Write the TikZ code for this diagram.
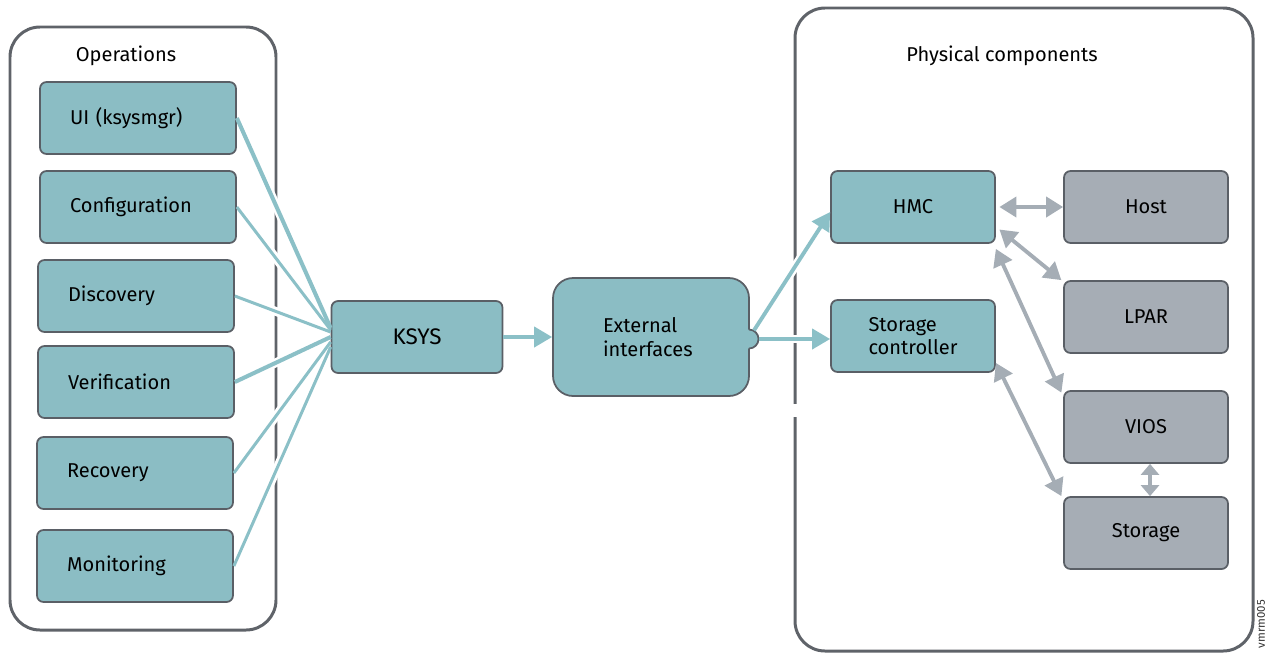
\documentclass[tikz,border=0pt]{standalone}
\usepackage{fontspec}
\setmainfont{Fira Sans}
\usetikzlibrary{arrows.meta, positioning, calc}

\definecolor{tealbox}{RGB}{139,189,196}
\definecolor{greybox}{RGB}{166,173,181}
\definecolor{boxline}{RGB}{90,95,102}
\definecolor{frameline}{RGB}{95,99,105}
\definecolor{tealline}{RGB}{139,192,199}
\definecolor{greyline}{RGB}{165,173,181}

\begin{document}
\begin{tikzpicture}[x=0.02cm, y=-0.02cm,
		frame/.style={draw=frameline, line width=1.7pt, rounded corners=0.6cm},
		base/.style={draw=boxline, line width=1pt, rounded corners=0.13cm, minimum height=1.44cm, font=\fontsize{11.4}{13.5}\selectfont},
		opbox/.style={base, fill=tealbox, text width=2.72cm, inner xsep=0.6cm, align=left},
		tealnode/.style={base, fill=tealbox, minimum width=3.28cm, align=left},
		greynode/.style={base, fill=greybox, minimum width=3.28cm},
		opline/.style={draw=tealline, line width=1.7pt},
		halo/.style={draw=white, line width=5pt, shorten <=0.3cm, shorten >=0.3cm},
		tealarrow/.style={draw=tealline, line width=2.2pt, -{Triangle[length=0.36cm, width=0.4cm]}},
		greyarrow/.style={draw=greyline, line width=2.2pt, {Triangle[length=0.34cm, width=0.4cm]}-{Triangle[length=0.34cm, width=0.4cm]}}]
		\useasboundingbox (0,0) rectangle (1266,653);
		
		% containers
		\draw[frame] (10,27) rectangle (276,630);
		\draw[frame] (795,8) rectangle (1253,651);
		\fill[white] (790,404) rectangle (800,417);
		\node[font=\fontsize{11.4}{13.5}\selectfont] (optitle) at (126,56) {Operations};
		\node[font=\fontsize{11.4}{13.5}\selectfont] (phytitle) at (1002,56) {Physical components};
		
		% operations
		\node[opbox] (ui) at (138,118) {UI (ksysmgr)};
		\node[opbox] (config) at (138,207) {Configuration};
		\node[opbox] (disc) at (136,296) {Discovery};
		\node[opbox] (verif) at (136,382) {Verification};
		\node[opbox] (recov) at (135,473) {Recovery};
		\node[opbox] (monit) at (135,566) {Monitoring};
		
		\node[base, fill=tealbox, minimum width=3.42cm, font=\fontsize{12.8}{15}\selectfont] (ksys) at (417,337) {KSYS};
		\node[opbox, rounded corners=0.4cm, minimum height=2.36cm, inner xsep=1.0cm, text width=1.92cm] (ext) at (651,337) {External\\interfaces};
		
		% physical components
		\node[tealnode] (hmc) at (913,207) {HMC};
		\node[tealnode] (stctl) at (913,336) {Storage\\controller};
		\node[greynode] (host) at (1146,207) {Host};
		\node[greynode] (lpar) at (1146,317) {LPAR};
		\node[greynode] (vios) at (1146,427) {VIOS};
		\node[greynode] (stor) at (1146,533) {Storage};
		
		% bump on external interfaces
		\coordinate (bump) at (749,339);
		\fill[fill=tealbox] (bump) circle (0.19cm);
		\draw[boxline, line width=1pt] ([yshift=-0.19cm]bump) arc[start angle=-90, end angle=90, radius=0.19cm];
		
		% halos, then lines
		\foreach \src/\dy in {ui/0.18, config/0.14, disc/0.1, verif/0, recov/-0.1, monit/-0.2}
			\draw[halo] (\src.east) -- ([yshift=\dy cm]ksys.west);
		\draw[halo] ([shift={(60:0.2cm)}]bump) -- ([yshift=-0.1cm]hmc.west);
		\draw[halo] ([xshift=0.2cm]bump) -- (bump -| stctl.west);
		
		\draw[opline, line width=2.3pt] (ui.east) -- ([yshift=0.18cm]ksys.west);
		\draw[opline] (config.east) -- ([yshift=0.14cm]ksys.west);
		\draw[opline] (disc.east) -- ([yshift=0.1cm]ksys.west);
		\draw[opline, line width=2.3pt] (verif.east) -- (ksys.west);
		\draw[opline] (recov.east) -- ([yshift=-0.1cm]ksys.west);
		\draw[opline] (monit.east) -- ([yshift=-0.2cm]ksys.west);
		
		\draw[tealarrow] (ksys.east) -- (ksys.east -| ext.west);
		\draw[tealarrow] ([shift={(60:0.2cm)}]bump) -- ([yshift=-0.1cm]hmc.west);
		\draw[tealarrow] ([xshift=0.2cm]bump) -- (bump -| stctl.west);
		
		\draw[greyarrow] ([xshift=2pt]hmc.east) -- (host.west);
		\draw[greyarrow] ([xshift=2pt, yshift=-0.45cm]hmc.east) -- ([xshift=-1pt]lpar.north west);
		\draw[greyarrow] ([yshift=-0.1cm]hmc.south east) -- ([xshift=-1pt, yshift=-0.05cm]vios.north west);
		\draw[greyarrow] ([yshift=0.2cm]stctl.south east) -- ([xshift=-1pt]stor.north west);
		\draw[greyarrow, {Triangle[length=0.22cm, width=0.36cm]}-{Triangle[length=0.22cm, width=0.36cm]}] ([xshift=0.08cm]vios.south) -- ([xshift=0.08cm]stor.north);
		
		\node[rotate=90, font=\fontsize{6.5}{7}\selectfont, text=black!80] (tag) at (1261,624) {vmrm005};
	\end{tikzpicture}
\end{document}
